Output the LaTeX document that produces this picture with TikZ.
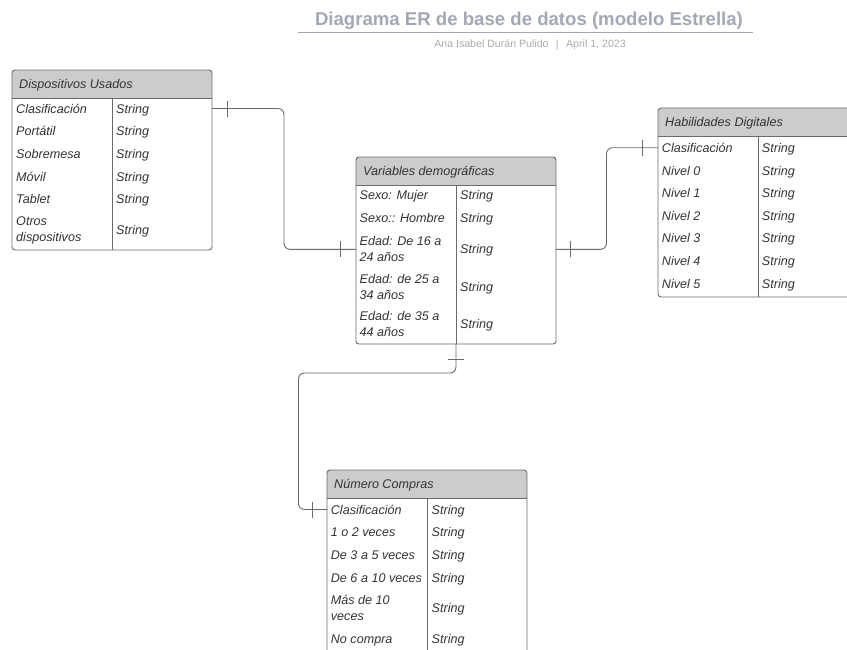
\documentclass[tikz,border=0pt]{standalone}
\usepackage{fontspec}
\setmainfont{Liberation Sans}

\definecolor{edge}{HTML}{6A6A6A}
\definecolor{headfill}{HTML}{CCCCCC}
\definecolor{ink}{HTML}{333333}
\definecolor{titlegray}{HTML}{A3A8B4}
\definecolor{rulegray}{HTML}{A0A6B4}
\definecolor{bylinegray}{HTML}{ABABAB}

\tikzset{
  tablebox/.style={draw=edge, line width=0.9pt, rounded corners=3pt,
    inner sep=0pt, outer sep=0pt, anchor=north west},
  tableline/.style={draw=edge, line width=0.9pt},
  headtext/.style={anchor=west, inner sep=0pt, text=ink,
    text height=9pt, text depth=0pt,
    font=\fontsize{12.6}{16}\selectfont\itshape},
  fieldtext/.style={anchor=west, inner sep=0pt, align=left, text=ink,
    font=\fontsize{12.6}{16}\selectfont\itshape},
  oneline/.style={text height=9pt, text depth=0pt},
  relation/.style={draw=edge, line width=0.9pt, rounded corners=6pt},
  onebar/.style={draw=edge, line width=0.9pt},
}

% entity table: name, left, top, width, height, column divider offset, title
\newcommand\ertable[7]{%
  \begin{scope}
    \clip[rounded corners=3pt] (#2,#3) rectangle ++(#4,#5);
    \fill[headfill] (#2,#3) rectangle ++(#4,28);
  \end{scope}
  \node[tablebox, minimum width=#4pt, minimum height=#5pt] (#1) at (#2,#3) {};
  \draw[tableline] ([yshift=-28pt]#1.north west) -- ([yshift=-28pt]#1.north east);
  \draw[tableline] ([xshift=#6pt,yshift=-28pt]#1.north west) -- ([xshift=#6pt]#1.south west);
  \node[headtext] (#1-head) at ([xshift=7pt,yshift=-13.5pt]#1.north west) {#7};
}

% attribute row on one line: table, index, key x, type x, y, key, type
\newcommand\erfield[7]{%
  \node[fieldtext, oneline] (#1-k#2) at (#3,#5) {#6};
  \node[fieldtext, oneline] (#1-v#2) at (#4,#5) {#7};
}
% attribute row whose key takes two lines
\newcommand\erfieldtwo[7]{%
  \node[fieldtext] (#1-k#2) at (#3,#5) {#6};
  \node[fieldtext, oneline] (#1-v#2) at (#4,#5) {#7};
}

\begin{document}
\begin{tikzpicture}[x=1pt, y=-1pt]
\useasboundingbox (0,0) rectangle (847,649);
\clip (0,0) rectangle (847,649);

% heading
\node[anchor=base, inner sep=0pt, text=titlegray,
  font=\fontsize{18.6}{22}\selectfont\bfseries] (title) at (529,25)
  {Diagrama ER de base de datos (modelo Estrella)};
\draw[rulegray, line width=1.2pt] (298,32.3) -- (753,32.3);
\node[anchor=base, inner sep=0pt, text=bylinegray,
  font=\fontsize{10.6}{12}\selectfont] (byline) at (530,47)
  {Ana Isabel Durán Pulido\hspace{0.7em}|\hspace{0.7em}April 1, 2023};

% Dispositivos Usados
\ertable{dis}{12}{70}{200}{180}{100.5}{Dispositivos Usados}
\erfield{dis}{1}{16}{116}{108.5}{Clasificación}{String}
\erfield{dis}{2}{16}{116}{131}{Portátil}{String}
\erfield{dis}{3}{16}{116}{153.5}{Sobremesa}{String}
\erfield{dis}{4}{16}{116}{176.5}{Móvil}{String}
\erfield{dis}{5}{16}{116}{199}{Tablet}{String}
\erfieldtwo{dis}{6}{16}{116}{230}{Otros\\dispositivos}{String}

% Variables demográficas
\ertable{var}{356}{157}{200}{187}{100}{Variables demográficas}
\erfield{var}{1}{359.5}{460}{195}{Sexo: Mujer}{String}
\erfield{var}{2}{359.5}{460}{218.3}{Sexo:: Hombre}{String}
\erfieldtwo{var}{3}{359.5}{460}{249.3}{Edad: De 16 a\\24 años}{String}
\erfieldtwo{var}{4}{359.5}{460}{286.7}{Edad: de 25 a\\34 años}{String}
\erfieldtwo{var}{5}{359.5}{460}{324.3}{Edad: de 35 a\\44 años}{String}

% Habilidades Digitales
\ertable{hab}{658}{108}{200}{189}{100.7}{Habilidades Digitales}
\erfield{hab}{1}{661.7}{761.7}{147.7}{Clasificación}{String}
\erfield{hab}{2}{661.7}{761.7}{170.7}{Nivel 0}{String}
\erfield{hab}{3}{661.7}{761.7}{192.5}{Nivel 1}{String}
\erfield{hab}{4}{661.7}{761.7}{215.5}{Nivel 2}{String}
\erfield{hab}{5}{661.7}{761.7}{238.3}{Nivel 3}{String}
\erfield{hab}{6}{661.7}{761.7}{261.3}{Nivel 4}{String}
\erfield{hab}{7}{661.7}{761.7}{284}{Nivel 5}{String}

% Número Compras
\ertable{num}{327}{470}{200}{183}{100.3}{Número Compras}
\erfield{num}{1}{330.7}{431.5}{509.5}{Clasificación}{String}
\erfield{num}{2}{330.7}{431.5}{532}{1 o 2 veces}{String}
\erfield{num}{3}{330.7}{431.5}{555}{De 3 a 5 veces}{String}
\erfield{num}{4}{330.7}{431.5}{578}{De 6 a 10 veces}{String}
\erfieldtwo{num}{5}{330.7}{431.5}{608.3}{Más de 10\\veces}{String}
\erfield{num}{6}{330.7}{431.5}{639.3}{No compra}{String}

% relationship end points
\coordinate (a1) at (dis.east |- dis-k1);
\coordinate (a2) at (var.west |- var-k3);
\coordinate (b1) at (var.east |- var-k3);
\coordinate (b2) at (hab.west |- hab-k1);
\coordinate (c1) at (var.south);
\coordinate (c2) at (num.west |- num-k1);

% Dispositivos Usados -- Variables demográficas
\draw[relation] (a1) -- ++(72,0) |- (a2);
\draw[onebar] ([xshift=15pt]a1) ++(0,-8) -- ++(0,16);
\draw[onebar] ([xshift=-16pt]a2) ++(0,-8) -- ++(0,16);

% Variables demográficas -- Habilidades Digitales
\draw[relation] (b1) -- ++(50.5,0) |- (b2);
\draw[onebar] ([xshift=14pt]b1) ++(0,-8) -- ++(0,16);
\draw[onebar] ([xshift=-15.5pt]b2) ++(0,-8) -- ++(0,16);

% Variables demográficas -- Número Compras
\draw[relation] (c1) -- ++(0,29) -| ([xshift=-28.5pt]c2) -- (c2);
\draw[onebar] ([yshift=-15pt]c1) ++(-8,0) -- ++(16,0);
\draw[onebar] ([xshift=-15pt]c2) ++(0,-8) -- ++(0,16);
\end{tikzpicture}
\end{document}
